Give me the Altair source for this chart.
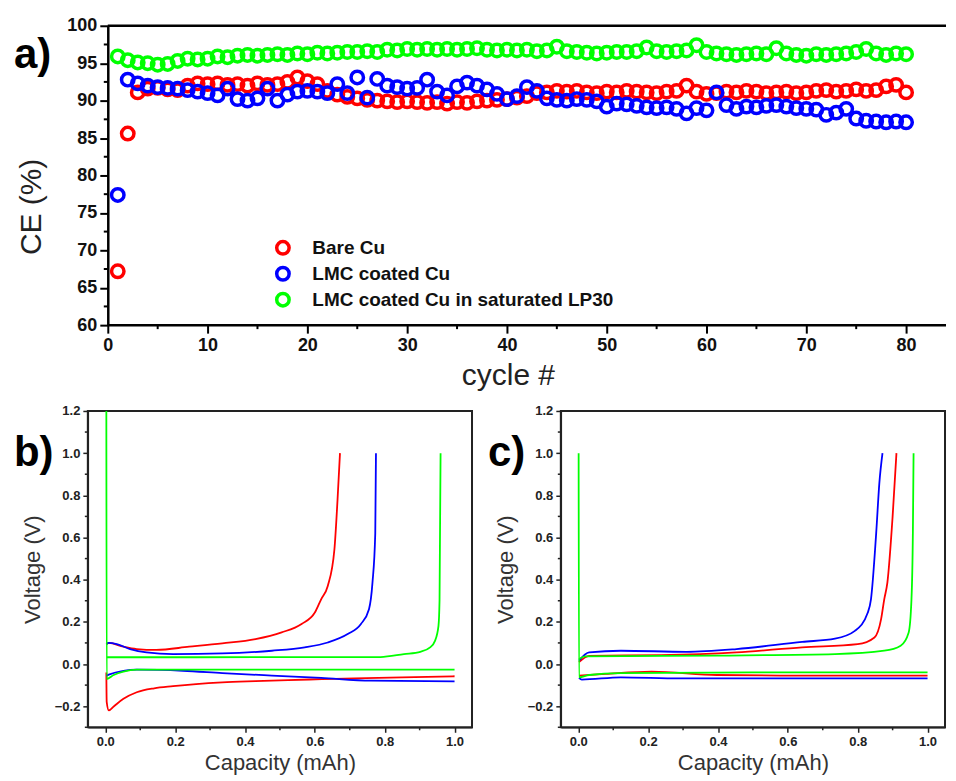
import altair as alt
import pandas as pd

FONT = "Liberation Sans"
SERIES = ["Bare Cu", "LMC coated Cu", "LMC coated Cu in saturated LP30"]
COLORS = ["#ff0000", "#0000ff", "#00ff00"]

# ---------------- panel a: coulombic efficiency ----------------
cycles = list(range(1, 81))
ce_bare = [67.2, 85.6, 91.1, 91.6, 91.7, 91.5, 91.4, 92.0, 92.3, 92.2,
           92.3, 92.1, 92.2, 92.0, 92.3, 92.1, 92.2, 92.5, 93.1, 92.6,
           92.2, 91.3, 90.8, 90.5, 90.3, 90.1, 90.0, 89.9, 89.8, 89.9,
           89.8, 89.7, 89.8, 89.6, 89.8, 89.7, 89.9, 90.0, 90.1, 90.2,
           90.4, 90.6, 91.0, 91.1, 91.3, 91.2, 91.3, 91.1, 91.0, 91.2,
           91.1, 91.3, 91.2, 91.1, 91.0, 91.2, 91.3, 92.0, 91.2, 90.9,
           91.0, 91.2, 91.1, 91.3, 91.2, 91.0, 91.1, 91.2, 91.0, 91.1,
           91.3, 91.4, 91.2, 91.3, 91.5, 91.3, 91.4, 91.9, 92.1, 91.1]
ce_lmc = [77.4, 92.8, 92.3, 92.0, 91.8, 91.7, 91.6, 91.4, 91.2, 91.0,
          90.7, 91.6, 90.2, 90.0, 90.3, 91.6, 90.0, 90.8, 91.2, 91.3,
          91.2, 91.0, 92.2, 91.0, 93.1, 90.4, 92.9, 92.0, 91.8, 91.6,
          91.7, 92.8, 91.2, 90.7, 91.9, 92.4, 92.0, 91.5, 90.9, 90.2,
          90.6, 91.8, 91.3, 90.3, 90.1, 90.0, 90.2, 90.1, 89.9, 89.2,
          89.6, 89.5, 89.3, 89.1, 89.0, 89.1, 88.9, 88.3, 89.0, 88.7,
          91.1, 89.4, 88.9, 89.2, 89.1, 89.3, 89.4, 89.2, 89.0, 88.9,
          88.8, 88.1, 88.4, 88.9, 87.6, 87.3, 87.2, 87.1, 87.2, 87.1]
ce_sat = [95.9, 95.4, 95.1, 95.0, 94.8, 94.9, 95.3, 95.6, 95.5, 95.6,
          95.9, 95.8, 96.0, 96.1, 96.0, 96.1, 96.2, 96.1, 96.3, 96.2,
          96.4, 96.3, 96.4, 96.5, 96.5, 96.6, 96.5, 96.8, 96.7, 96.9,
          96.8, 96.9, 96.8, 96.9, 96.8, 96.9, 97.0, 96.8, 96.7, 96.8,
          96.7, 96.8, 96.6, 96.7, 97.2, 96.6, 96.5, 96.4, 96.3, 96.4,
          96.5, 96.5, 96.6, 97.1, 96.6, 96.5, 96.6, 96.7, 97.4, 96.5,
          96.3, 96.2, 96.1, 96.2, 96.3, 96.2, 97.0, 96.3, 96.1, 96.0,
          96.2, 96.1, 96.2, 96.3, 96.5, 96.9, 96.3, 96.1, 96.3, 96.2]

top_x_ticks = list(range(0, 81, 10))
top_x_minor = list(range(5, 80, 10))
top_y_ticks = list(range(60, 101, 5))
top_y_minor = [62.5 + 5 * k for k in range(8)]
top_x_range = [0, 84]
top_y_range = [60, 100]

# ---------------- panel b: voltage profiles ----------------
b_red_plate_cap = [0.003, 0.004, 0.01, 0.025, 0.052, 0.09, 0.14, 0.194, 0.26, 0.335, 0.43, 0.524, 0.62, 0.713, 0.85, 1.0]
b_red_plate_v = [-0.04, -0.18, -0.22, -0.2, -0.165, -0.134, -0.115, -0.105, -0.095, -0.087, -0.081, -0.076, -0.072, -0.068, -0.063, -0.058]
b_red_strip_cap = [0.003, 0.01, 0.052, 0.09, 0.146, 0.24, 0.335, 0.43, 0.505, 0.562, 0.6, 0.618, 0.637, 0.656, 0.665, 0.672]
b_red_strip_v = [0.094, 0.1, 0.082, 0.071, 0.067, 0.082, 0.098, 0.118, 0.15, 0.19, 0.244, 0.307, 0.37, 0.543, 0.78, 1.0]

b_blue_plate_cap = [0.003, 0.01, 0.052, 0.09, 0.222, 0.335, 0.477, 0.618, 0.76, 1.0]
b_blue_plate_v = [-0.055, -0.05, -0.032, -0.027, -0.032, -0.043, -0.055, -0.066, -0.079, -0.082]
b_blue_strip_cap = [0.003, 0.01, 0.033, 0.071, 0.118, 0.194, 0.335, 0.477, 0.571, 0.637, 0.694, 0.732, 0.755, 0.765, 0.773, 0.775]
b_blue_strip_v = [0.094, 0.1, 0.094, 0.071, 0.055, 0.047, 0.05, 0.063, 0.079, 0.102, 0.142, 0.19, 0.26, 0.386, 0.62, 1.0]

b_green_plate_cap = [0.003, 0.004, 0.024, 0.052, 0.09, 0.5, 1.0]
b_green_plate_v = [1.2, -0.071, -0.052, -0.036, -0.027, -0.027, -0.027]
b_green_strip_cap = [0.004, 0.2, 0.788, 0.855, 0.902, 0.93, 0.944, 0.954, 0.957, 0.96]
b_green_strip_v = [0.032, 0.032, 0.033, 0.047, 0.058, 0.079, 0.11, 0.181, 0.3, 1.0]

# ---------------- panel c: voltage profiles ----------------
c_red_plate_cap = [0.002, 0.078, 0.21, 0.397, 0.62, 1.0]
c_red_plate_v = [-0.055, -0.047, -0.036, -0.052, -0.055, -0.055]
c_red_strip_cap = [0.002, 0.031, 0.237, 0.453, 0.641, 0.8, 0.848, 0.867, 0.876, 0.885, 0.9, 0.911]
c_red_strip_v = [0.009, 0.039, 0.042, 0.055, 0.079, 0.094, 0.126, 0.213, 0.307, 0.386, 0.7, 1.0]

c_blue_plate_cap = [0.002, 0.01, 0.122, 0.29, 1.0]
c_blue_plate_v = [-0.066, -0.074, -0.063, -0.068, -0.068]
c_blue_strip_cap = [0.002, 0.031, 0.122, 0.31, 0.453, 0.641, 0.735, 0.792, 0.829, 0.838, 0.853, 0.862, 0.871]
c_blue_strip_v = [0.016, 0.055, 0.063, 0.058, 0.071, 0.105, 0.12, 0.157, 0.244, 0.307, 0.622, 0.858, 1.0]

c_green_plate_cap = [0.001, 0.002, 0.031, 0.122, 0.5, 1.0]
c_green_plate_v = [1.0, -0.063, -0.052, -0.043, -0.04, -0.04]
c_green_strip_cap = [0.002, 0.02, 0.4, 0.735, 0.876, 0.923, 0.946, 0.954, 0.958, 0.96]
c_green_strip_v = [0.024, 0.036, 0.04, 0.047, 0.063, 0.087, 0.15, 0.307, 0.622, 1.0]

v_x_ticks = [0.0, 0.2, 0.4, 0.6, 0.8, 1.0]
v_x_minor = [0.1, 0.3, 0.5, 0.7, 0.9]
v_y_ticks = [-0.2, 0.0, 0.2, 0.4, 0.6, 0.8, 1.0, 1.2]
v_y_minor = [-0.3, -0.1, 0.1, 0.3, 0.5, 0.7, 0.9, 1.1]

color_scale = alt.Scale(domain=SERIES, range=COLORS)

# ---------------- build panel a ----------------
df_top = pd.concat([
    pd.DataFrame({"cycle": cycles, "ce": ce_bare, "series": SERIES[0]}),
    pd.DataFrame({"cycle": cycles, "ce": ce_lmc, "series": SERIES[1]}),
    pd.DataFrame({"cycle": cycles, "ce": ce_sat, "series": SERIES[2]}),
], ignore_index=True)

# plot area starts 2 cycles left of the y axis so that it lines up with panel b
TW, TH = 860, 300
AXIS_SHIFT = 20
tx = alt.Scale(domain=[-2, 84], nice=False, zero=False)
ty = alt.Scale(domain=top_y_range, nice=False, zero=False)
top_axis = dict(tickColor="black", tickWidth=2,
                tickSize=8, labelFont=FONT, labelFontSize=18, labelFontWeight="bold",
                labelColor="#111", labelPadding=3, titleFont=FONT, titleFontSize=30,
                titleFontWeight="normal", titleColor="#222", grid=False)
top_xaxis = alt.Axis(values=top_x_ticks, title="cycle #", titlePadding=6, domain=False,
                     titleX=421, **top_axis)
top_yaxis = alt.Axis(values=top_y_ticks, title="CE (%)", titlePadding=20, offset=-AXIS_SHIFT,
                     titleY=181, domainColor="black", domainWidth=2.5, **top_axis)

pts = alt.Chart(df_top).mark_point(shape="circle", filled=False, size=155,
                                   strokeWidth=3.5, opacity=1).encode(
    x=alt.X("cycle:Q", scale=tx, axis=top_xaxis),
    y=alt.Y("ce:Q", scale=ty, axis=top_yaxis),
    color=alt.Color("series:N", scale=color_scale, sort=SERIES,
                    legend=alt.Legend(title=None, orient="none", legendX=186, legendY=213,
                                      labelFont=FONT, labelFontSize=19, labelFontWeight="bold",
                                      labelColor="#111", labelLimit=0, symbolType="circle",
                                      symbolSize=155, symbolStrokeWidth=3.5, labelOffset=20,
                                      rowPadding=-1, padding=0)),
)
frame_df = pd.DataFrame({"x0": [top_x_range[0]] * 2, "x1": [top_x_range[1]] * 2,
                         "ce": [top_y_range[0], top_y_range[1]]})
top_frame = alt.Chart(frame_df).mark_rule(color="black", strokeWidth=2.5).encode(
    x=alt.X("x0:Q", scale=tx, axis=top_xaxis), x2="x1:Q",
    y=alt.Y("ce:Q", scale=ty, axis=top_yaxis))
top_xminor = alt.Chart(pd.DataFrame({"cycle": top_x_minor})).mark_rule(color="black", strokeWidth=2).encode(
    x=alt.X("cycle:Q", scale=tx, axis=top_xaxis), y=alt.value(TH), y2=alt.value(TH + 4))
top_yminor = alt.Chart(pd.DataFrame({"ce": top_y_minor})).mark_rule(color="black", strokeWidth=2).encode(
    y=alt.Y("ce:Q", scale=ty, axis=top_yaxis), x=alt.value(AXIS_SHIFT), x2=alt.value(AXIS_SHIFT - 4))
top_label = alt.Chart(pd.DataFrame({"t": ["a)"]})).mark_text(
    font=FONT, fontSize=42, fontWeight="bold", align="left", baseline="alphabetic", color="black").encode(
    text="t:N", x=alt.value(-74), y=alt.value(42))

top = alt.layer(pts, top_frame, top_xminor, top_yminor, top_label).properties(
    width=TW, height=TH, view=alt.ViewBackground(stroke=None))


# ---------------- build panels b, c ----------------
def curves(parts):
    frames = []
    for seg, (cap, volt, series) in enumerate(parts):
        frames.append(pd.DataFrame({"cap": cap, "volt": volt, "series": series,
                                    "seg": seg, "i": list(range(len(cap)))}))
    return pd.concat(frames, ignore_index=True)


df_b = curves([
    (b_red_plate_cap, b_red_plate_v, SERIES[0]), (b_red_strip_cap, b_red_strip_v, SERIES[0]),
    (b_blue_plate_cap, b_blue_plate_v, SERIES[1]), (b_blue_strip_cap, b_blue_strip_v, SERIES[1]),
    (b_green_plate_cap, b_green_plate_v, SERIES[2]), (b_green_strip_cap, b_green_strip_v, SERIES[2]),
])
df_c = curves([
    (c_red_plate_cap, c_red_plate_v, SERIES[0]), (c_red_strip_cap, c_red_strip_v, SERIES[0]),
    (c_blue_plate_cap, c_blue_plate_v, SERIES[1]), (c_blue_strip_cap, c_blue_strip_v, SERIES[1]),
    (c_green_plate_cap, c_green_plate_v, SERIES[2]), (c_green_strip_cap, c_green_strip_v, SERIES[2]),
])

PW, PH = 385, 317
vx = alt.Scale(domain=[-0.05, 1.05], nice=False, zero=False)
vy = alt.Scale(domain=[-0.3, 1.2], nice=False, zero=False)
v_axis = dict(domainColor="#222", domainWidth=1.5, tickColor="#222", tickWidth=1.5,
              tickSize=5, labelFont=FONT, labelFontSize=13, labelFontWeight="bold",
              labelColor="#222", labelPadding=3, titleFont=FONT, titleFontSize=22,
              titleFontWeight="normal", titleColor="#333", grid=False, format=".1f")
v_xaxis = alt.Axis(values=v_x_ticks, title="Capacity (mAh)", titlePadding=4, **v_axis)
v_yaxis = alt.Axis(values=v_y_ticks, title="Voltage (V)", titlePadding=10, **v_axis)


def vpanel(df, letter, letter_x):
    lines = alt.Chart(df).mark_line(strokeWidth=1.8, clip=True, interpolate="monotone").encode(
        x=alt.X("cap:Q", scale=vx, axis=v_xaxis),
        y=alt.Y("volt:Q", scale=vy, axis=v_yaxis),
        color=alt.Color("series:N", scale=color_scale, legend=None),
        detail="seg:N",
        order="i:Q",
    )
    xminor = alt.Chart(pd.DataFrame({"cap": v_x_minor})).mark_rule(color="#222", strokeWidth=1.5).encode(
        x=alt.X("cap:Q", scale=vx, axis=v_xaxis), y=alt.value(PH), y2=alt.value(PH + 3))
    yminor = alt.Chart(pd.DataFrame({"volt": v_y_minor})).mark_rule(color="#222", strokeWidth=1.5).encode(
        y=alt.Y("volt:Q", scale=vy, axis=v_yaxis), x=alt.value(0), x2=alt.value(-3))
    label = alt.Chart(pd.DataFrame({"t": [letter]})).mark_text(
        font=FONT, fontSize=42, fontWeight="bold", align="left", baseline="alphabetic", color="black").encode(
        text="t:N", x=alt.value(letter_x), y=alt.value(55))
    return alt.layer(lines, xminor, yminor, label).properties(width=PW, height=PH)


panel_b = vpanel(df_b, "b)", -74)
panel_c = vpanel(df_c, "c)", -73)

chart = alt.vconcat(
    top,
    alt.hconcat(panel_b, panel_c, spacing=14),
    spacing=14,
).properties(
    padding={"left": 5, "top": 8, "right": 0, "bottom": 0}
).configure_view(stroke="#222", strokeWidth=2)

chart.save("out.html", embed_options={"renderer": "svg", "actions": False})
